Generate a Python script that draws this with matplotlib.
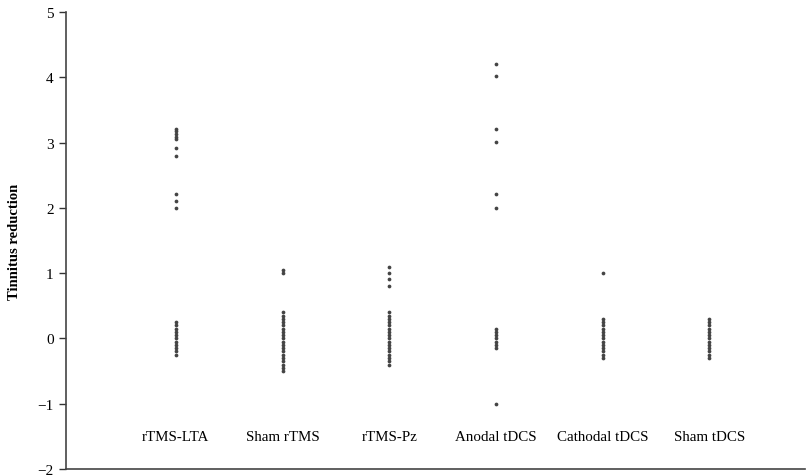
import matplotlib.pyplot as plt

plt.rcParams['font.family'] = ['Liberation Serif', 'DejaVu Serif']

groups = ["rTMS-LTA", "Sham rTMS", "rTMS-Pz", "Anodal tDCS", "Cathodal tDCS", "Sham tDCS"]

rtms_lta = [3.21, 3.17, 3.13, 3.09, 3.05, 2.92, 2.80, 2.21, 2.10, 2.00,
            0.25, 0.20, 0.15, 0.10, 0.05, 0.00, -0.05, -0.10, -0.15, -0.20, -0.25]
sham_rtms = [1.05, 1.00,
             0.40, 0.35, 0.30, 0.25, 0.20, 0.15, 0.10, 0.05, 0.00, -0.05, -0.10,
             -0.15, -0.20, -0.25, -0.30, -0.35, -0.40, -0.45, -0.50]
rtms_pz = [1.10, 1.00, 0.91, 0.80,
           0.40, 0.35, 0.30, 0.25, 0.20, 0.15, 0.10, 0.05, 0.00, -0.05, -0.10,
           -0.15, -0.20, -0.25, -0.30, -0.35, -0.40]
anodal = [4.21, 4.02, 3.21, 3.01, 2.21, 2.00,
          0.15, 0.10, 0.05, 0.00, -0.05, -0.10, -0.15, -1.01]
cathodal = [1.00, 0.30, 0.25, 0.20, 0.15, 0.10, 0.05, 0.00, -0.05, -0.10,
            -0.15, -0.20, -0.25, -0.30]
sham_tdcs = [0.30, 0.25, 0.20, 0.15, 0.10, 0.05, 0.00, -0.05, -0.10,
             -0.15, -0.20, -0.25, -0.30]

series = [rtms_lta, sham_rtms, rtms_pz, anodal, cathodal, sham_tdcs]

fig = plt.figure(figsize=(8.09, 4.77), dpi=100)
ax = fig.add_axes([0.0816, 0.0147, 0.914, 0.958])

for i, vals in enumerate(series):
    ax.plot([i + 1] * len(vals), vals, linestyle='none', marker='o',
            markersize=2.7, color='#444444', markeredgewidth=0)
    ax.text(i + 1, -1.5, groups[i], ha='center', va='center', fontsize=10.8)

ax.set_xlim(-0.03, 6.9)
ax.set_ylim(-2, 5)
ax.set_yticks(range(-2, 6))
ax.set_yticklabels([str(v).replace('-', '\u2212') for v in range(-2, 6)])
ax.set_xticks([])
ax.tick_params(axis='y', direction='out', length=5, width=1, colors='#333333',
               labelsize=11, labelcolor='black', pad=4)
ax.spines['top'].set_visible(False)
ax.spines['right'].set_visible(False)
ax.spines['left'].set_color('#444444')
ax.spines['bottom'].set_color('#444444')
ax.spines['left'].set_linewidth(1.2)
ax.spines['bottom'].set_linewidth(1.2)
ax.set_ylabel("Tinnitus reduction", fontsize=10.5, fontweight='bold', labelpad=12)

fig.savefig("out.png", dpi=100)
